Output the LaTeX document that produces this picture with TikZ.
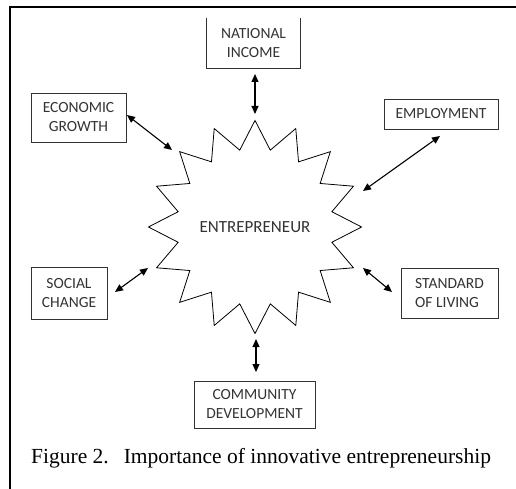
\documentclass[tikz,border=0pt]{standalone}
\usepackage{fontspec}
\setmainfont{Liberation Serif}
\newfontfamily\calib{Carlito}
\usetikzlibrary{arrows.meta,shapes.geometric}
\begin{document}
\begin{tikzpicture}[x=1pt,y=-1pt,
  box/.style={draw=black!80,line width=0.8pt,inner sep=0pt,align=center,text=black!80,
    font=\calib\fontsize{15.5}{19}\selectfont},
  arr/.style={line width=1.1pt,{Triangle[length=8pt,width=7pt]}-{Triangle[length=8pt,width=7pt]}},
  frame/.style={line width=1.5pt}]
\useasboundingbox (0,0) rectangle (516,489);
% frame
\coordinate (ftr) at (516,7);
\coordinate (ftl) at (10,7);
\coordinate (fbl) at (10,489);
\draw[frame] (ftr) -- (ftl) -- (fbl);
% star
\node[star,star points=16,star point ratio=1.36,minimum size=212pt,inner sep=0pt,
  draw,line width=0.8pt,text=black!80,font=\calib\fontsize{17}{20}\selectfont]
  (ent) at (255,227) {ENTREPRENEUR};
% boxes
\node[box,draw=none,minimum width=93pt,minimum height=50pt] (nat) at (253.5,43) {NATIONAL\\INCOME};
\draw[black!80,line width=0.8pt] (nat.north west) -- (nat.south west) -- (nat.south east) -- (nat.north east);
\node[box,minimum width=95pt,minimum height=49pt] (eco) at (78.5,117.5) {ECONOMIC\\GROWTH};
\node[box,minimum width=114pt,minimum height=30pt] (emp) at (441,114) {EMPLOYMENT};
\node[box,minimum width=76pt,minimum height=52pt] (soc) at (69,293) {SOCIAL\\CHANGE};
\node[box,align=left,minimum width=97pt,minimum height=50pt] (std) at (449.5,293) {STANDARD\\OF LIVING};
\node[box,minimum width=121pt,minimum height=47pt] (com) at (254.5,404.5) {COMMUNITY\\DEVELOPMENT};
% arrow ends
\coordinate (n1) at (255,74);  \coordinate (n2) at (255,114);
\coordinate (e1) at (127,115); \coordinate (e2) at (172,150);
\coordinate (m1) at (440,136); \coordinate (m2) at (363,191);
\coordinate (s1) at (115,292); \coordinate (s2) at (148,268);
\coordinate (t1) at (363,268); \coordinate (t2) at (392,292);
\coordinate (c1) at (256,339); \coordinate (c2) at (256,372);
\draw[arr] (n1) -- (n2);
\draw[arr] (e1) -- (e2);
\draw[arr] (m1) -- (m2);
\draw[arr] (s1) -- (s2);
\draw[arr] (t1) -- (t2);
\draw[arr] (c1) -- (c2);
% caption
\node[anchor=base west,inner sep=0pt,font=\fontsize{21.5}{25}\selectfont] (cap) at (31,463)
  {Figure 2.\hspace{15pt}Importance of innovative entrepreneurship};
\end{tikzpicture}
\end{document}
